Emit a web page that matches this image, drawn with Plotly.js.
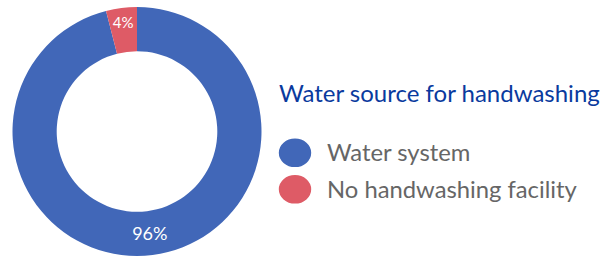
<!DOCTYPE html>
<html><head><meta charset="utf-8">
<script src="https://cdn.plot.ly/plotly-3.0.1.min.js"></script>
<style>html,body{margin:0;padding:0;background:#fff}#chart{width:616px;height:256px}</style>
</head><body><div id="chart"></div>
<script>
const labels = ["Water system", "No handwashing facility"];
const values = [96, 4];
const colors = ["#4167b8", "#de5b66"];
const legendTitle = "Water source for handwashing";

const W = 616, H = 256;
const data = [{
  type: "pie",
  labels: labels,
  values: values,
  sort: false,
  direction: "clockwise",
  rotation: 0,
  hole: 0.645,
  marker: {colors: colors, line: {width: 0}},
  textinfo: "percent",
  textposition: "inside",
  insidetextorientation: "horizontal",
  textfont: {family: "Lato", size: 18, color: "#ffffff"},
  domain: {x: [12 / W, 262 / W], y: [0, 249 / H]},
  showlegend: false,
  hoverinfo: "label+percent"
}];

const shapes = [];
const annotations = [{
  xref: "paper", yref: "paper", x: 277 / W, y: 1 - 92 / H,
  xanchor: "left", yanchor: "middle", showarrow: false,
  text: legendTitle, font: {family: "Lato", size: 24, color: "#0a3a9e"}
}];
const rowY = [152.8, 189.3];
const textY = [152, 188.5];
labels.forEach((lab, i) => {
  const yc = 1 - rowY[i] / H;
  shapes.push({
    type: "circle", xref: "paper", yref: "paper",
    xsizemode: "pixel", ysizemode: "pixel",
    xanchor: 295 / W, yanchor: yc,
    x0: -16.2, x1: 16.2, y0: -14.3, y1: 14.3,
    fillcolor: colors[i], line: {width: 0}
  });
  annotations.push({
    xref: "paper", yref: "paper", x: 325 / W, y: 1 - textY[i] / H,
    xanchor: "left", yanchor: "middle", showarrow: false,
    text: lab, font: {family: "Lato", size: 23.8, color: "#666666"}
  });
});

const layout = {
  width: W, height: H,
  margin: {l: 0, r: 0, t: 0, b: 0},
  paper_bgcolor: "#ffffff",
  showlegend: false,
  shapes: shapes,
  annotations: annotations
};
Plotly.newPlot("chart", data, layout, {displayModeBar: false, staticPlot: true});
</script></body></html>
